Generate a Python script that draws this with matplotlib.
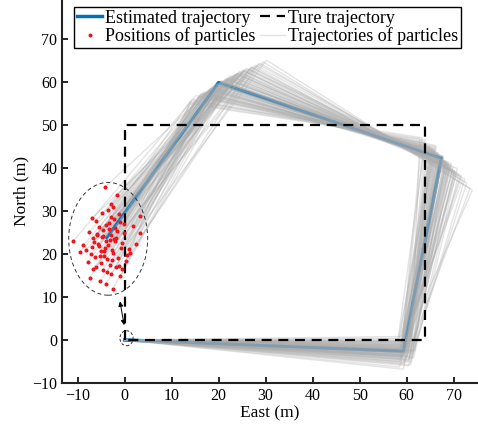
import numpy as np
import matplotlib
matplotlib.use("Agg")
import matplotlib.pyplot as plt
from matplotlib.patches import Ellipse

plt.rcParams['font.family'] = ['Liberation Serif', 'DejaVu Serif']
plt.rcParams['font.size'] = 11

# true (reference) trajectory
true_x = [0, 0, 64, 64, 0]
true_y = [0, 50, 50, 0, 0]

# estimated trajectory
est_x = [0, 59.3, 67.4, 20.0, -3.8]
est_y = [0, -2.6, 42.2, 59.8, 23.8]

# final positions of particles
dots_x = [-4.1, -1.6, -3.0, -2.5, -6.9, 3.3, -7.6, -10.9, 3.2, -6.7,
          -7.4, -2.5, -1.2, -0.5, -4.8, -5.6, -3.3, -2.0, -0.8, 0.6,
          -5.9, -4.4, -3.7, -1.9, -6.3, -8.2, -2.8, -4.0, -5.1, -0.2,
          1.1, -3.5, -4.6, -2.2, -6.0, -7.0, -1.4, -3.1, -5.4, 0.3,
          -2.6, -4.9, -3.8, -1.0, -6.6, -5.2, -2.9, -0.6, -4.3, -3.6,
          -8.8, -7.8, 1.8, 2.4, -1.7, -5.8, -4.2, -3.2, -2.4, -6.2,
          -3.9, -0.9, -5.0, -1.3, -4.7, -2.1, -7.2, -3.4, -0.1, -5.5,
          -6.8, -2.7, -4.5, 0.9, -1.8, -3.0, -5.3, -9.5, -2.3, -4.0]
dots_y = [35.6, 33.6, 31.7, 30.8, 28.3, 28.8, 25.0, 23.0, 24.8, 16.6,
          14.4, 11.8, 17.2, 16.5, 29.5, 22.4, 27.1, 26.0, 21.3, 19.8,
          24.3, 20.6, 18.9, 23.7, 19.2, 20.9, 15.4, 26.8, 17.8, 24.9,
          20.3, 22.1, 25.6, 28.0, 17.0, 21.7, 19.1, 23.3, 26.2, 18.4,
          21.0, 23.9, 15.9, 27.4, 22.8, 13.6, 24.5, 22.6, 19.5, 30.2,
          22.0, 18.0, 26.5, 22.3, 25.3, 24.7, 21.4, 17.5, 20.1, 27.7,
          23.1, 14.8, 20.7, 29.3, 16.2, 22.9, 19.9, 25.9, 26.9, 21.9,
          23.6, 18.6, 24.1, 21.2, 16.9, 28.6, 19.4, 20.4, 23.4, 13.0]

# turning points of each particle trajectory
c1x = [59.2, 60.1, 58.7, 59.8, 60.5, 59.0, 61.2, 58.3, 59.6, 60.8,
       59.4, 58.9, 60.3, 59.1, 61.5, 59.7, 58.5, 60.0, 59.3, 60.6,
       58.8, 59.9, 60.2, 59.5, 58.1, 60.9, 59.0, 61.0, 59.6, 58.6,
       60.4, 59.2, 59.8, 58.4, 60.7, 59.3, 61.8, 59.1, 60.1, 58.9,
       59.7, 60.3, 58.7, 59.4, 60.0, 61.3, 59.5, 58.2, 60.5, 59.9,
       59.0, 60.8, 58.6, 59.6, 60.2, 59.3, 58.9, 61.1, 59.8, 60.4,
       59.1, 58.5, 60.6, 59.7, 59.2, 60.0, 58.8, 61.4, 59.5, 60.1,
       58.3, 59.9, 60.7, 59.4, 58.7, 60.3, 59.6, 61.6, 59.0, 60.2]
c1y = [-2.1, -3.5, -0.8, -2.9, -4.6, -1.7, -3.1, 0.4, -2.4, -5.2,
       -1.2, -3.8, -2.6, -0.3, -4.1, -2.0, -6.3, -1.5, -3.3, -2.7,
       0.8, -4.4, -1.9, -3.0, -2.3, -5.8, -0.6, -3.6, -1.1, -2.8,
       -4.9, -2.2, -0.1, -3.4, -1.6, -6.8, -2.5, -3.9, -1.3, -4.2,
       -2.0, -0.9, -3.2, -5.5, -1.8, -2.6, -3.7, 0.2, -4.7, -2.4,
       -1.4, -3.0, -5.0, -0.5, -2.9, -3.5, -1.0, -4.3, -2.1, -6.0,
       -1.7, -3.3, -0.7, -2.8, -4.0, -1.9, -3.6, -2.3, -5.3, -1.2,
       -2.7, -0.4, -3.9, -1.5, -4.5, -2.2, -3.1, -0.2, -2.5, -3.8]
c2x = [67.1, 68.9, 65.4, 66.8, 70.2, 64.9, 69.5, 66.1, 67.7, 72.4,
       65.8, 68.3, 66.5, 63.7, 71.1, 67.3, 69.9, 66.0, 68.6, 64.5,
       67.9, 73.5, 66.3, 68.1, 65.1, 70.8, 67.5, 62.8, 69.2, 66.7,
       68.4, 65.6, 71.7, 67.0, 64.2, 69.7, 66.9, 68.8, 65.3, 70.4,
       67.4, 66.2, 74.0, 68.0, 65.9, 69.1, 67.8, 63.9, 70.0, 66.6,
       68.5, 65.0, 67.2, 71.4, 66.4, 69.4, 64.7, 68.2, 67.6, 72.8,
       65.7, 68.7, 66.8, 69.8, 67.0, 64.0, 70.6, 66.1, 68.1, 65.5,
       71.9, 67.3, 69.0, 66.0, 63.3, 68.9, 67.7, 70.3, 65.2, 67.5]
c2y = [42.3, 40.8, 44.1, 41.6, 39.2, 43.5, 41.0, 45.2, 42.7, 37.4,
       43.9, 40.3, 42.0, 46.1, 38.6, 41.9, 40.0, 44.6, 41.3, 43.0,
       42.5, 35.2, 44.9, 40.7, 43.7, 39.8, 42.1, 46.8, 40.5, 43.3,
       41.1, 44.4, 38.1, 42.9, 45.5, 39.5, 42.2, 40.9, 44.0, 38.9,
       42.6, 43.8, 34.8, 41.5, 44.3, 40.2, 42.4, 45.8, 39.0, 43.1,
       41.4, 44.7, 42.8, 37.9, 43.6, 40.6, 45.0, 41.2, 42.0, 36.5,
       44.2, 40.4, 43.4, 39.7, 42.3, 46.4, 38.4, 43.0, 41.7, 44.8,
       37.1, 42.5, 40.1, 43.2, 47.0, 41.0, 42.7, 39.3, 44.5, 41.8]
c3x = [19.5, 22.8, 16.9, 20.7, 25.4, 18.1, 23.6, 15.2, 21.3, 27.9,
       17.6, 22.1, 19.9, 14.3, 26.2, 20.4, 24.7, 16.3, 21.8, 18.6,
       20.1, 29.5, 15.8, 22.5, 18.9, 25.9, 19.3, 13.7, 24.0, 17.2,
       21.6, 16.6, 27.0, 20.0, 15.5, 24.3, 19.7, 23.1, 17.9, 26.6,
       20.9, 18.3, 30.2, 21.1, 16.0, 23.9, 20.5, 14.8, 25.1, 18.7,
       22.3, 17.0, 19.4, 28.4, 18.0, 24.5, 15.9, 22.7, 20.2, 28.8,
       17.4, 23.3, 19.1, 25.6, 20.6, 14.0, 26.9, 18.4, 21.5, 16.4,
       27.4, 20.3, 23.8, 18.2, 13.9, 22.0, 20.8, 25.2, 16.7, 21.0]
c3y = [59.4, 61.2, 57.6, 60.1, 62.5, 58.3, 61.7, 56.8, 60.4, 63.8,
       57.9, 61.0, 59.6, 55.9, 62.9, 59.9, 62.0, 57.2, 60.8, 58.6,
       59.1, 64.6, 56.5, 61.4, 58.9, 63.1, 59.3, 55.1, 61.9, 57.5,
       60.6, 57.0, 63.4, 59.7, 56.2, 62.2, 59.0, 61.5, 58.1, 63.0,
       60.0, 58.4, 65.0, 60.3, 56.9, 61.8, 59.8, 55.6, 62.7, 58.8,
       60.9, 57.4, 59.5, 64.1, 58.0, 62.4, 56.6, 61.1, 59.2, 64.3,
       57.7, 61.6, 58.7, 62.8, 60.2, 54.8, 63.3, 58.5, 60.7, 57.3,
       63.6, 59.6, 61.9, 58.2, 55.4, 60.5, 60.0, 62.6, 57.1, 59.9]

fig = plt.figure(figsize=(4.78, 4.33), dpi=100)
ax = fig.add_axes([0.130, 0.1155, 0.868, 0.8845])

# estimated trajectory: solid under the particle cloud, faint copy on top
ax.plot(est_x, est_y, color='#0072BD', lw=2.5, label='Estimated trajectory', zorder=2)
ax.plot(est_x, est_y, color='#0072BD', lw=2.0, alpha=0.22, zorder=3.5)
ax.plot(true_x, true_y, color='k', lw=1.6, ls=(0, (4.5, 3)), label='Ture trajectory', zorder=4)
for i in range(len(dots_x)):
    px = [0, c1x[i], c2x[i], c3x[i], dots_x[i]]
    py = [0, c1y[i], c2y[i], c3y[i], dots_y[i]]
    ax.plot(px, py, color=(0.68, 0.68, 0.68), alpha=0.33, lw=1.0, zorder=3,
            label='Trajectories of particles' if i == 0 else None)
ax.plot(dots_x, dots_y, ls='none', marker='o', ms=1.9, color='#f0141e',
        label='Positions of particles', zorder=5)

# circled regions and arrow
ax.add_patch(Ellipse((-3.5, 23.5), 16.8, 26.2, fill=False, ls=(0, (4, 3)),
                     lw=0.7, ec='#333333', zorder=6))
ax.add_patch(Ellipse((0.4, 0.4), 2.8, 3.5, fill=False, ls=(0, (3, 2)),
                     lw=0.7, ec='#333333', zorder=6))
ax.annotate('', xy=(0.0, 2.8), xytext=(-1.1, 9.6),
            arrowprops=dict(arrowstyle='<|-|>', color='k', lw=0.7,
                            mutation_scale=7), zorder=6)

ax.set_xlim(-13.3, 75)
ax.set_ylim(-10, 79)
ax.set_xticks(np.arange(-10, 71, 10))
ax.set_yticks(np.arange(-10, 71, 10))
ax.tick_params(direction='in', length=4, width=1.2, colors='k', labelsize=11.5)
for s in ['top', 'right']:
    ax.spines[s].set_visible(False)
for s in ['left', 'bottom']:
    ax.spines[s].set_linewidth(1.5)
    ax.spines[s].set_color('#222222')
ax.set_xlabel('East (m)', fontsize=12.5, labelpad=1)
ax.set_ylabel('North (m)', fontsize=12.5, labelpad=2)

h, l = ax.get_legend_handles_labels()
order = [l.index('Estimated trajectory'), l.index('Positions of particles'),
         l.index('Ture trajectory'), l.index('Trajectories of particles')]
leg = ax.legend([h[k] for k in order], [l[k] for k in order], ncol=2,
                loc='upper left', bbox_to_anchor=(0.029, 0.982), fontsize=13,
                frameon=True, fancybox=False, edgecolor='k', framealpha=1,
                handlelength=1.4, handletextpad=0.15, columnspacing=0.25,
                borderpad=0.15, labelspacing=0.05, borderaxespad=0)
leg.get_frame().set_linewidth(1.0)
leg.set_zorder(10)

fig.savefig('out.png', dpi=100)
